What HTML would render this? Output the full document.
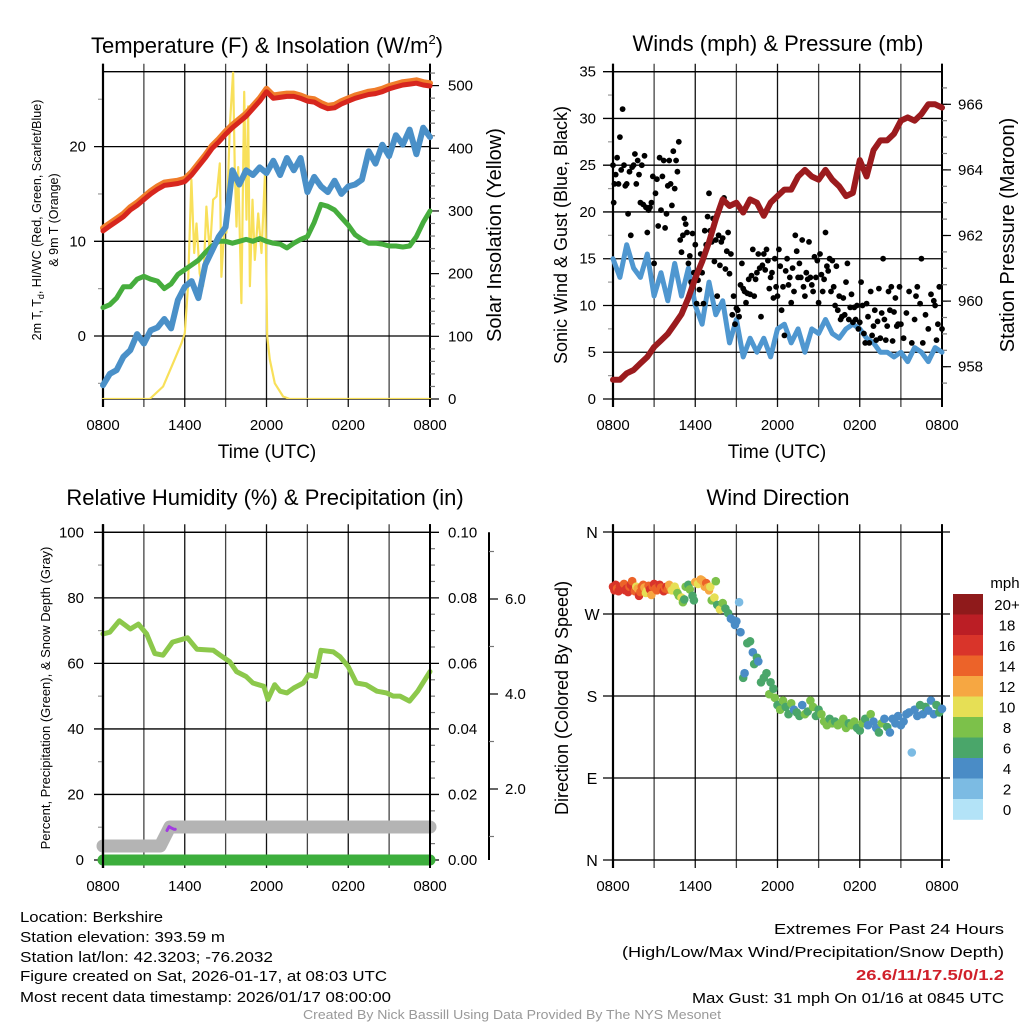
<!DOCTYPE html>
<html><head><meta charset="utf-8">
<style>
html,body{margin:0;padding:0;background:#fff;}
svg{display:block;font-family:"Liberation Sans",sans-serif;}
</style></head>
<body>
<svg id="fig" width="1024" height="1024" viewBox="0 0 1024 1024" xmlns="http://www.w3.org/2000/svg">
<rect width="1024" height="1024" fill="#fff"/>
<g id="g1"></g>
<g id="g2"></g>
<g id="g3"></g>
<g id="g4"></g>

<text x="267" y="53" font-size="22" text-anchor="middle">Temperature (F) &amp; Insolation (W/m<tspan font-size="13" dy="-9">2</tspan><tspan dy="9">)</tspan></text>
<text x="778" y="51" font-size="22" text-anchor="middle">Winds (mph) &amp; Pressure (mb)</text>
<text x="265" y="505" font-size="22" text-anchor="middle">Relative Humidity (%) &amp; Precipitation (in)</text>
<text x="778" y="505" font-size="22" text-anchor="middle">Wind Direction</text>

<text x="267" y="458" font-size="19" text-anchor="middle">Time (UTC)</text>
<text x="777" y="458" font-size="19" text-anchor="middle">Time (UTC)</text>

<text transform="translate(41,220) rotate(-90)" font-size="12.5" text-anchor="middle">2m T, T<tspan font-size="9" dy="3">d</tspan><tspan dy="-3">, HI/WC (Red, Green, Scarlet/Blue)</tspan></text>
<text transform="translate(58,220) rotate(-90)" font-size="12.5" text-anchor="middle">&amp; 9m T (Orange)</text>
<text transform="translate(501,235) rotate(-90)" font-size="20" text-anchor="middle">Solar Insolation (Yellow)</text>
<text transform="translate(567,235) rotate(-90)" font-size="18" text-anchor="middle">Sonic Wind &amp; Gust (Blue, Black)</text>
<text transform="translate(1014,235) rotate(-90)" font-size="20" text-anchor="middle">Station Pressure (Maroon)</text>
<text transform="translate(50,698) rotate(-90)" font-size="13" text-anchor="middle">Percent, Precipitation (Green), &amp; Snow Depth (Gray)</text>
<text transform="translate(568,698) rotate(-90)" font-size="18" text-anchor="middle">Direction (Colored By Speed)</text>

<g font-size="15">
<text x="20" y="922" textLength="143" lengthAdjust="spacingAndGlyphs">Location: Berkshire</text>
<text x="20" y="942" textLength="205" lengthAdjust="spacingAndGlyphs">Station elevation: 393.59 m</text>
<text x="20" y="962" textLength="253" lengthAdjust="spacingAndGlyphs">Station lat/lon: 42.3203; -76.2032</text>
<text x="20" y="981" textLength="367" lengthAdjust="spacingAndGlyphs">Figure created on Sat, 2026-01-17, at 08:03 UTC</text>
<text x="20" y="1002" textLength="371" lengthAdjust="spacingAndGlyphs">Most recent data timestamp: 2026/01/17 08:00:00</text>
</g>
<g font-size="15">
<text x="774" y="934" textLength="230" lengthAdjust="spacingAndGlyphs">Extremes For Past 24 Hours</text>
<text x="622" y="957" textLength="382" lengthAdjust="spacingAndGlyphs">(High/Low/Max Wind/Precipitation/Snow Depth)</text>
<text x="856" y="980" textLength="148" lengthAdjust="spacingAndGlyphs" font-weight="bold" fill="#d0202a">26.6/11/17.5/0/1.2</text>
<text x="692" y="1003" textLength="312" lengthAdjust="spacingAndGlyphs">Max Gust: 31 mph On 01/16 at 0845 UTC</text>
</g>
<text x="303" y="1019" font-size="12.5" fill="#999" textLength="418" lengthAdjust="spacingAndGlyphs">Created By Nick Bassill Using Data Provided By The NYS Mesonet</text>
</svg>
<script>
// ---------- data ----------
var xTickLabels = ["0800","1400","2000","0200","0800"];
var halfHours = [0,0.5,1,1.5,2,2.5,3,3.5,4,4.5,5,5.5,6,6.5,7,7.5,8,8.5,9,9.5,10,10.5,11,11.5,12,12.5,13,13.5,14,14.5,15,15.5,16,16.5,17,17.5,18,18.5,19,19.5,20,20.5,21,21.5,22,22.5,23,23.5,24];
var tempF = [11.1,11.6,12.1,12.6,13.3,13.8,14.4,15.0,15.5,15.9,16.0,16.1,16.3,17.0,17.9,18.8,19.8,20.5,21.3,22.0,22.6,23.2,24.0,24.8,25.8,25.1,25.2,25.3,25.3,25.1,24.8,24.7,24.3,24.0,24.1,24.5,24.8,25.1,25.3,25.5,25.6,25.8,26.1,26.3,26.5,26.6,26.7,26.5,26.4];
var windChillF = [-5.2,-4.0,-3.6,-2.2,-1.5,0.2,-0.8,0.6,0.9,1.8,0.8,3.8,5.2,5.8,4.0,7.5,9.0,10.5,11.5,17.5,16.0,17.5,17.0,17.8,17.2,18.5,17.0,18.8,17.5,18.8,15.2,16.8,15.8,15.2,16.4,15.0,15.8,16.0,16.5,19.5,18.2,20.2,19.0,21.2,20.2,21.8,19.2,22.0,21.0];
var dewF = [3.0,3.3,4.0,5.2,5.2,6.0,6.3,6.0,5.8,5.0,5.5,6.5,7.0,7.5,8.0,8.8,9.5,10.0,10.0,9.8,10.0,10.2,10.0,10.3,10.0,9.8,9.7,9.3,9.8,10.2,10.5,12.0,13.9,13.7,13.3,12.5,11.7,10.7,10.2,9.8,9.8,9.7,9.5,9.5,9.4,9.5,10.5,12.0,13.2];
var insolTimes = [0,3.43,4.41,5.14,5.76,6.0,6.24,6.49,6.69,6.86,7.1,7.35,7.59,7.84,8.08,8.33,8.57,8.69,8.94,9.06,9.31,9.55,9.67,9.8,9.92,10.16,10.36,10.53,10.65,10.78,10.97,11.14,11.39,11.63,11.88,12.05,12.24,12.61,13.22,13.71,13.96,24];
var insolVals = [0,0,20,57,89,105,180,350,233,280,200,180,307,233,318,323,376,195,286,265,434,522,365,275,370,153,490,286,467,180,318,222,296,233,357,100,63,25,4,0,0,0];
var windMph = [15,13,16.5,14,13,15.5,11,13.5,10.5,14.5,11,14,10,8,12.5,9,10.5,6,8.5,4.5,6.5,5,6.5,4.5,7.5,8,6,7.5,5,7.5,7,8.5,7,6.5,7.5,8,7.5,6.5,6,5,5,4.5,5,4,5.5,5,4,5.5,5];
var pressureMb = [957.6,957.6,957.8,957.9,958.1,958.3,958.6,958.8,959.0,959.3,959.6,960.1,960.7,961.2,961.8,962.5,963.1,962.9,963.0,962.7,963.1,963.0,962.6,963.0,963.2,963.4,963.4,963.8,964.0,963.8,963.7,964.0,963.7,963.5,963.2,963.3,964.3,963.8,964.6,964.9,964.9,965.1,965.5,965.6,965.5,965.7,966.0,966.0,965.9];
var gustTimes = [0,0.05,0.1,0.2,0.3,0.4,0.5,0.6,0.7,0.8,0.9,1.0,1.1,1.2,1.3,1.4,1.5,1.6,1.7,1.8,1.9,2.0,2.1,2.2,2.3,2.4,2.5,2.6,2.7,2.8,2.9,3.0,3.1,3.2,3.3,3.4,3.5,3.6,3.7,3.8,3.9,4.0,4.1,4.2,4.3,4.4,4.5,4.6,4.7,4.8,4.9,5.0,5.1,5.2,5.3,5.4,5.5,5.6,5.7,5.8,5.9,6.0,6.1,6.2,6.3,6.4,6.5,6.6,6.7,6.8,6.9,7.0,7.1,7.2,7.3,7.4,7.5,7.6,7.7,7.8,7.9,8.0,8.1,8.2,8.3,8.4,8.5,8.6,8.7,8.8,8.9,9.0,9.1,9.2,9.3,9.4,9.5,9.6,9.7,9.8,9.9,10.0,10.1,10.2,10.3,10.4,10.5,10.6,10.7,10.8,10.9,11.0,11.1,11.2,11.3,11.4,11.5,11.6,11.7,11.8,11.9,12.0,12.1,12.2,12.3,12.4,12.5,12.6,12.7,12.8,12.9,13.0,13.1,13.2,13.3,13.4,13.5,13.6,13.7,13.8,13.9,14.0,14.1,14.2,14.3,14.4,14.5,14.6,14.7,14.8,14.9,15.0,15.1,15.2,15.3,15.4,15.5,15.6,15.7,15.8,15.9,16.0,16.1,16.2,16.3,16.4,16.5,16.6,16.7,16.8,16.9,17.0,17.1,17.2,17.3,17.4,17.5,17.6,17.7,17.8,17.9,18.0,18.1,18.2,18.3,18.4,18.5,18.6,18.7,18.8,18.9,19.0,19.1,19.2,19.3,19.4,19.5,19.6,19.7,19.8,19.9,20.0,20.1,20.2,20.3,20.4,20.5,20.6,20.7,20.8,20.9,21.0,21.2,21.4,21.6,21.8,22.0,22.1,22.2,22.4,22.5,22.6,22.8,23.0,23.2,23.4,23.5,23.6,23.7,23.8,24.0];
var gustVals = [25,21,23,24,25.8,23,28,24.5,31,25,22.8,23,19.8,24.3,17.5,24.8,25,26.2,23,25.5,24,21,25,20.8,26,20.5,17.8,20.2,20.5,21,23.8,14.5,22,23.5,18.5,25.8,20.2,23.8,25.5,18.3,19.8,22.8,25.5,23,20.7,26.5,22.5,25.5,24.3,27.5,17,15.7,17.5,19.3,18.7,17.8,14.5,15.3,12.5,17.7,13.5,16.5,10.2,12.7,11.7,15.5,13.5,10.2,18,16.5,19.5,22,18,16.8,19.3,14.7,17,11,17.5,14.3,16.8,17.2,21.5,13.9,15.8,17.8,13.4,15.5,9,11,8,9.7,9.5,8.8,12.2,14.5,11.8,11.5,10.3,11.3,12.8,11.2,13.2,16,11,12.8,13.5,15.5,14,8.8,14.3,15.5,13.8,16,14.8,11.8,13,13.5,10.8,15,12,11,16,14.2,9.5,12,6.8,13.7,15,12.2,13,10.3,14,11.5,17.5,15.8,13,14.5,13,17,12,11,13.5,12.8,16.8,13,12.2,11.5,15.2,13,14.8,10.3,15.5,13.3,11.5,12.8,17.8,14.2,13.7,15,11.5,14.8,12,10,14.2,9.5,11,8.5,8.8,10.8,9,12.5,14.5,8.5,9.8,11.2,8.2,9.8,8.5,10,7.5,8.2,12.5,10,7,6,10.2,8.8,6,11.5,6.8,7.8,9.5,6.3,8.3,11.8,6.5,9.2,15,8.5,6.3,7.8,11.5,9.5,12,6.2,9.3,10.8,7.8,8,12,8,6.5,9.2,11.5,6,8.5,11,12,10.2,15,6,9,7.5,11.2,10.5,10,6.3,8,12,7.5];
var rhTimes = [0,0.5,1.2,2.0,2.6,3.2,3.8,4.4,5.1,6.2,6.9,8.1,8.6,9.3,9.8,10.5,11.0,11.8,12.1,12.6,13.0,13.5,14.0,14.7,15.1,15.6,16.0,16.9,17.4,18.0,18.6,19.3,20.1,20.8,21.3,21.8,22.5,23.1,24];
var rhPct = [69,69.5,73,70.5,72,69,63,62.5,66.5,67.8,64.3,64,62.5,60.5,57.5,56,54,53,49,53.5,51.5,51,52.5,54,56.5,56,64,63.5,62,59,54,53.5,51.5,51,50,50,48.5,51.5,57.5];
var precipTimes = [0,24];
var precipIn = [0,0];
var snowTimes = [0,4.2,4.9,24];
var snowIn = [0.8,0.8,1.2,1.2];
var purpleTimes = [4.7,4.85,5.0,5.2,5.3];
var purplePct = [9.0,10.2,9.8,9.4,9.4];
var dirTimes = [0,0.1,0.2,0.3,0.4,0.5,0.6,0.7,0.8,0.9,1.0,1.1,1.2,1.3,1.4,1.5,1.6,1.7,1.8,1.9,2.0,2.1,2.2,2.3,2.4,2.5,2.6,2.7,2.8,2.9,3.0,3.1,3.2,3.3,3.4,3.5,3.6,3.7,3.8,3.9,4.0,4.1,4.2,4.3,
 4.5,4.6,4.7,4.8,5.0,5.1,5.2,5.3,5.5,5.6,5.8,5.9,
 6.0,6.2,6.4,6.5,6.6,6.7,6.8,6.9,7.0,7.1,7.2,7.4,7.5,7.6,7.8,8.0,8.2,
 8.4,8.6,8.8,8.9,9.0,9.2,9.3,9.5,9.6,9.8,10.0,10.2,10.3,10.5,10.6,10.8,11.0,11.2,11.4,11.5,11.7,11.8,12.0,12.2,
 12.4,12.6,12.8,13.0,13.2,13.4,13.6,13.8,14.0,14.2,14.4,14.6,14.8,15.0,15.2,15.4,15.6,15.8,16.0,16.2,16.4,16.6,16.8,17.0,17.2,17.4,17.6,17.8,18.0,18.2,18.4,18.6,18.8,19.0,19.2,19.4,19.6,19.8,20.0,20.2,20.4,20.6,20.8,21.0,21.2,21.4,21.6,21.8,22.0,22.2,22.4,22.6,22.8,23.0,23.2,23.4,23.6,23.8,24.0];
var dirDeg = [300,296,302,298,295,300,297,299,303,296,298,294,300,302,306,297,295,300,298,290,294,300,302,299,293,296,301,297,291,300,303,298,296,300,302,299,297,295,298,300,297,302,299,296,
 300,296,293,290,288,283,286,300,302,297,290,285,
 305,303,308,307,305,300,304,299,296,300,285,288,306,280,275,282,276,
 271,265,263,258,262,283,250,200,205,238,240,228,215,222,218,195,200,205,182,195,188,178,170,165,
 175,168,160,172,165,162,158,170,160,163,175,168,158,165,160,152,148,155,150,152,148,150,155,145,150,148,152,145,142,150,155,148,160,152,145,140,150,155,146,140,155,150,158,148,152,160,162,118,165,158,170,160,168,164,175,160,170,162,166];
var dirSpeed = [17,16,17,15,16,17,16,16,15,16,17,16,14,17,15,16,14,11,12,16,15,14,15,12,11,10,14,16,12,15,16,15,14,15,16,15,14,16,15,17,14,13,12,10,
 10,10,9,8,10,9,7,8,7,9,6,7,
 12,11,12,13,12,13,14,12,12,11,8,10,8,7,10,9,7,
 7,4,4,5,4,3,4,6,4,6,6,4,7,6,5,7,7,7,8,6,7,8,7,8,
 8,7,6,8,4,7,6,4,8,6,9,8,6,7,8,8,9,6,8,7,8,8,9,8,7,8,9,7,6,8,7,4,8,5,4,6,8,4,6,4,5,4,4,4,4,4,4,2,4,4,6,4,7,4,4,4,6,6,5];
var speedBinLabels = ["0","2","4","6","8","10","12","14","16","18","20+"];
var speedColors = ["#b3e3f7","#7cbbe3","#4a8cc6","#4aa66a","#7cc14a","#e6df55","#f6a742","#ec6329","#d9342a","#bb1e25","#8f1a1b"];

// ---------- helpers ----------
var NS = "http://www.w3.org/2000/svg";
function el(parent, tag, attrs){ var e=document.createElementNS(NS,tag); for(var k in attrs){e.setAttribute(k,attrs[k]);} parent.appendChild(e); return e; }
function line(parent,x1,y1,x2,y2,stroke,w,name){ var e=el(parent,"line",{x1:x1,y1:y1,x2:x2,y2:y2,stroke:stroke,"stroke-width":w});
 
 
 return e; }
function txt(parent,x,y,s,size,anchor,name){ var e=el(parent,"text",{x:x,y:y,"font-size":size,"text-anchor":anchor}); e.textContent=s;
 
 
 return e; }
function path(parent,ts,vs,xf,yf,stroke,w,name){ var d=""; for(var i=0;i<ts.length;i++){ d+=(i?"L":"M")+xf(ts[i]).toFixed(1)+","+yf(vs[i]).toFixed(1);} 
 var e=el(parent,"path",{d:d,fill:"none",stroke:stroke,"stroke-width":w,"stroke-linejoin":"round","stroke-linecap":"round"});
 
 
 return e; }
function frame(g,X0,X1,top,bot,xlabY){
 for(var h=0;h<=24;h+=3){ var x=X0+h*(X1-X0)/24; line(g,x,top-8,x,bot+8,(h%6==0)?"#111":"#444",(h==0||h==24)?2:1.3,"x-gridline"); }
 line(g,X0,top,X1,top,"#000",1.3,"plot-top-border"); line(g,X0,bot,X1,bot,"#000",1.3,"plot-bottom-border");
 line(g,X0,top-8,X0,bot+8,"#000",2.2,"left-axis-line"); line(g,X1,top-8,X1,bot+8,"#000",2,"right-axis-line");
 for(var i=0;i<5;i++){ txt(g,X0+i*6*(X1-X0)/24,xlabY,xTickLabels[i],15,"middle","x-tick-label"); }
}
// ---------- panel 1 ----------
(function(){
 var g=document.getElementById("g1");
 var X0=103,X1=430,top=71.7,bot=399;
 var X=function(h){return X0+h*(X1-X0)/24;}, Y=function(v){return 336-v*9.47;}, Yi=function(v){return 399-v*0.6268;};
 frame(g,X0,X1,top,bot,430);
 [0,10,20].forEach(function(v){ line(g,94,Y(v),X1,Y(v),"#000",1.3,"temperature-gridline"); txt(g,86,Y(v)+5,String(v),15,"end","temperature-tick-label"); });
 [-5,5,15,25].forEach(function(v){ line(g,98,Y(v),102,Y(v),"#999",1.2,"temperature-minor-tick"); });
 for(var v=0;v<=520;v+=20){ var maj=(v%100==0); line(g,X1,Yi(v),X1+(maj?9:5),Yi(v),maj?"#000":"#777",1.2,"insolation-tick"); if(maj) txt(g,448,Yi(v)+5,String(v),15,"start","insolation-tick-label"); }
 var cp=el(g,"clipPath",{id:"c1"}); el(cp,"rect",{x:X0-4,y:top,width:X1-X0+8,height:bot-top});
 var pg=el(g,"g",{"clip-path":"url(#c1)"});
 
 
 path(pg,insolTimes,insolVals,X,Yi,"#f8e05a",2.2,"insolation-line");
 path(pg,halfHours,dewF,X,Y,"#46ad3d",5,"dewpoint-line");
 path(pg,halfHours,windChillF,X,Y,"#4a90c8",6,"windchill-line");
 path(pg,halfHours,tempF.map(function(v){return v+0.3;}),X,Y,"#f07d2a",6,"temp-9m-line");
 path(pg,halfHours,tempF,X,Y,"#d7261e",5,"temp-2m-line");
})();
// ---------- panel 2 ----------
(function(){
 var g=document.getElementById("g2");
 var X0=613,X1=942,top=71.7,bot=399;
 var X=function(h){return X0+h*(X1-X0)/24;}, Y=function(v){return 399-v*9.352;}, Yp=function(p){return 104.3+(966-p)*32.8;};
 frame(g,X0,X1,top,bot,430);
 for(var v=0;v<=35;v+=5){ line(g,603,Y(v),X1,Y(v),"#000",1.3,"wind-gridline"); txt(g,596,Y(v)+5,String(v),15,"end","wind-tick-label"); }
 for(var v=2.5;v<35;v+=5){ line(g,608,Y(v),612,Y(v),"#999",1.2,"wind-minor-tick"); }
 for(var p=957.5;p<=966.8;p+=0.5){ line(g,X1,Yp(p),X1+5,Yp(p),"#777",1.2,"pressure-minor-tick"); }
 for(var p=958;p<=966;p+=2){ line(g,X1,Yp(p),X1+9,Yp(p),"#000",1.2,"pressure-tick"); txt(g,958,Yp(p)+5,String(p),15,"start","pressure-tick-label"); }
 var cp=el(g,"clipPath",{id:"c2"}); el(cp,"rect",{x:X0-4,y:top,width:X1-X0+8,height:bot-top});
 var pg=el(g,"g",{"clip-path":"url(#c2)"});
 
 
 path(pg,halfHours,windMph,X,Y,"#4f97d0",5,"sonic-wind-line");
 for(var i=0;i<gustTimes.length;i++){ var c=el(pg,"circle",{cx:X(gustTimes[i]).toFixed(1),cy:Y(gustVals[i]).toFixed(1),r:2.9,fill:"#000"});
  
   }
 path(pg,halfHours,pressureMb,X,Yp,"#9b1b1e",6,"pressure-line");
})();
// ---------- panel 3 ----------
(function(){
 var g=document.getElementById("g3");
 var X0=103,X1=430,top=532.3,bot=860;
 var X=function(h){return X0+h*(X1-X0)/24;}, Y=function(v){return 860-v*3.277;}, Ypr=function(v){return 860-v*3277;}, Ys=function(v){return 884-v*47.5;};
 frame(g,X0,X1,top,bot,891);
 for(var v=0;v<=100;v+=20){ line(g,94,Y(v),X1+9,Y(v),"#000",1.3,"humidity-gridline"); txt(g,84,Y(v)+5,String(v),15,"end","humidity-tick-label"); txt(g,448,Y(v)+5,(v/1000).toFixed(2),15,"start","precip-tick-label"); }
 for(var v=10;v<100;v+=20){ line(g,98,Y(v),102,Y(v),"#999",1.2,"humidity-minor-tick"); }
 for(var v=5;v<100;v+=5){ if(v%20) line(g,X1,Y(v),X1+5,Y(v),"#777",1.2,"precip-minor-tick"); }
 line(g,489,top,489,bot,"#000",2,"snow-axis-line");
 for(var s=1.0;s<=7.0;s+=1.0){ var maj=(s%2==0); line(g,489,Ys(s),489+(maj?9:5),Ys(s),maj?"#000":"#777",1.2,"snow-tick"); if(maj) txt(g,505,Ys(s)+5,s.toFixed(1),15,"start","snow-tick-label"); }
 path(g,precipTimes,precipIn,X,Ypr,"#3cae3c",11,"precipitation-line");
 path(g,snowTimes,snowIn,X,Ys,"#b4b4b4",13,"snow-depth-line");
 path(g,purpleTimes,purplePct,X,Y,"#a23ce0",3,"purple-line");
 path(g,rhTimes,rhPct,X,Y,"#8cc84b",5,"relative-humidity-line");
 line(g,X0,top-8,X0,bot+8,"#000",2.2,"left-axis-line"); line(g,X1,top-8,X1,bot+8,"#000",2,"right-axis-line");
})();
// ---------- panel 4 ----------
(function(){
 var g=document.getElementById("g4");
 var X0=613,X1=942,top=532.3,bot=860;
 var X=function(h){return X0+h*(X1-X0)/24;}, Y=function(d){return 860-d*0.9111;};
 frame(g,X0,X1,top,bot,891);
 var dirLabels=["N","E","S","W","N"];
 for(var i=0;i<5;i++){ var d=i*90; line(g,603,Y(d),950,Y(d),"#000",1.3,"direction-gridline"); txt(g,592,Y(d)+6,dirLabels[i],16,"middle","direction-tick-label"); }
 for(var i=0;i<dirTimes.length;i++){ var b=Math.min(10,Math.floor(dirSpeed[i]/2));
  var c=el(g,"circle",{cx:X(dirTimes[i]).toFixed(1),cy:Y(dirDeg[i]).toFixed(1),r:4.3,fill:speedColors[b]});
  
   }
 var cb=el(g,"g",{});
 
 
 txt(cb,1005,588,"mph",15,"middle","colorbar-title");
 for(var i=0;i<11;i++){ var k=10-i; var y=594+i*20.5;
  var r=el(cb,"rect",{x:953,y:y,width:30,height:20.8,fill:speedColors[k]});
  
  
  txt(cb,1007,y+16,speedBinLabels[k],15,"middle","colorbar-label"); }
})();
</script>
</body></html>
